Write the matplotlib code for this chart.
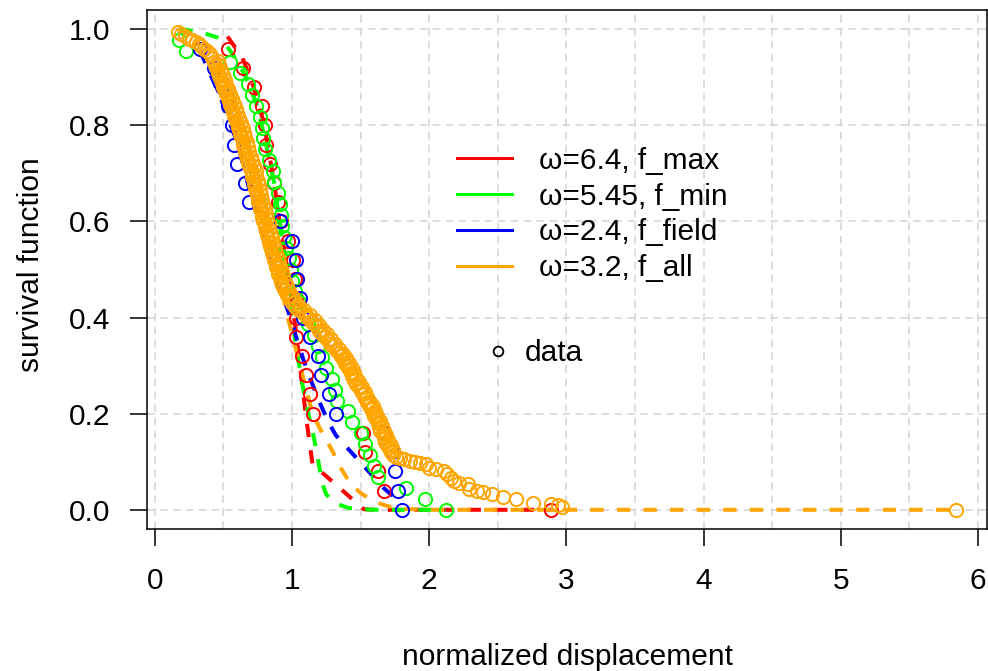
import numpy as np
import matplotlib
matplotlib.use("Agg")
import matplotlib.pyplot as plt
from matplotlib.lines import Line2D
from matplotlib.ticker import MultipleLocator

plt.rcParams["font.family"] = ["Liberation Sans", "DejaVu Sans"]

red_x = [0.53, 0.64, 0.72, 0.78, 0.80, 0.81, 0.84, 0.87, 0.90, 0.92, 0.97, 1.01, 1.02,
         1.03, 1.03, 1.03, 1.07, 1.10, 1.13, 1.15, 1.52, 1.53, 1.63, 1.67, 2.89]
red_y = [0.96, 0.92, 0.88, 0.84, 0.80, 0.76, 0.72, 0.68, 0.64, 0.60, 0.56, 0.52, 0.48,
         0.44, 0.40, 0.36, 0.32, 0.28, 0.24, 0.20, 0.16, 0.12, 0.08, 0.04, 0.00]

green_x = [0.18, 0.23, 0.55, 0.62, 0.68, 0.71, 0.74, 0.77, 0.78, 0.79, 0.80, 0.83, 0.86,
           0.87, 0.90, 0.91, 0.92, 0.93, 0.94, 0.96, 0.98, 0.99, 1.00, 1.02, 1.05, 1.08,
           1.12, 1.16, 1.19, 1.22, 1.25, 1.29, 1.31, 1.33, 1.41, 1.44, 1.50, 1.53, 1.57,
           1.60, 1.63, 1.83, 1.97, 2.12]
green_y = [0.977, 0.955, 0.932, 0.909, 0.886, 0.864, 0.841, 0.818, 0.795, 0.773, 0.750,
           0.727, 0.705, 0.682, 0.659, 0.636, 0.614, 0.591, 0.568, 0.545, 0.523, 0.500,
           0.477, 0.455, 0.432, 0.409, 0.386, 0.364, 0.341, 0.318, 0.295, 0.273, 0.250,
           0.227, 0.205, 0.182, 0.159, 0.136, 0.114, 0.091, 0.068, 0.045, 0.023, 0.000]

blue_x = [0.33, 0.43, 0.49, 0.53, 0.56, 0.58, 0.60, 0.66, 0.69, 0.91, 1.00, 1.03, 1.04,
          1.06, 1.08, 1.13, 1.19, 1.21, 1.27, 1.32, 1.67, 1.73, 1.75, 1.77, 1.80]
blue_y = [0.96, 0.92, 0.88, 0.84, 0.80, 0.76, 0.72, 0.68, 0.64, 0.60, 0.56, 0.52, 0.48,
          0.44, 0.40, 0.36, 0.32, 0.28, 0.24, 0.20, 0.16, 0.12, 0.08, 0.04, 0.00]

orange_x = [0.17, 0.19, 0.22, 0.25, 0.27, 0.30, 0.32, 0.34, 0.36, 0.38, 0.40, 0.42, 0.43,
            0.44, 0.45, 0.46, 0.47, 0.48, 0.49, 0.50, 0.51, 0.52, 0.53, 0.54, 0.55, 0.56,
            0.57, 0.58, 0.59, 0.60, 0.61, 0.615, 0.62, 0.63, 0.64, 0.645, 0.65, 0.66,
            0.665, 0.67, 0.68, 0.69, 0.70, 0.705, 0.71, 0.72, 0.725, 0.73, 0.74, 0.745,
            0.75, 0.755, 0.765, 0.77, 0.78, 0.785, 0.79, 0.80, 0.805, 0.81, 0.82, 0.825,
            0.835, 0.84, 0.85, 0.855, 0.865, 0.87, 0.88, 0.885, 0.895, 0.90, 0.91, 0.92,
            0.93, 0.94, 0.955, 0.97, 0.985, 1.00, 1.02, 1.05, 1.08, 1.10, 1.12, 1.14,
            1.16, 1.18, 1.20, 1.22, 1.24, 1.26, 1.28, 1.30, 1.32, 1.34, 1.355, 1.37,
            1.385, 1.40, 1.415, 1.43, 1.44, 1.455, 1.47, 1.485, 1.50, 1.515, 1.53, 1.545,
            1.56, 1.575, 1.59, 1.60, 1.61, 1.625, 1.635, 1.645, 1.66, 1.67, 1.68, 1.695,
            1.71, 1.725, 1.74, 1.76, 1.79, 1.82, 1.86, 1.90, 1.93, 1.98, 2.00, 2.05, 2.11,
            2.13, 2.16, 2.18, 2.22, 2.28, 2.29, 2.35, 2.39, 2.46, 2.54, 2.63, 2.76, 2.89,
            2.94, 2.97, 5.84]
orange_y = [0.995, 0.990, 0.985, 0.980, 0.977, 0.973, 0.970, 0.965, 0.960, 0.955, 0.948,
            0.940, 0.932, 0.925, 0.918, 0.910, 0.902, 0.895, 0.888, 0.880, 0.872, 0.865,
            0.858, 0.850, 0.842, 0.835, 0.828, 0.820, 0.812, 0.805, 0.797, 0.790, 0.782,
            0.775, 0.768, 0.760, 0.752, 0.745, 0.738, 0.730, 0.722, 0.715, 0.708, 0.700,
            0.692, 0.685, 0.678, 0.670, 0.662, 0.655, 0.648, 0.640, 0.632, 0.625, 0.618,
            0.610, 0.602, 0.595, 0.588, 0.580, 0.572, 0.565, 0.558, 0.550, 0.542, 0.535,
            0.528, 0.520, 0.512, 0.505, 0.498, 0.490, 0.482, 0.475, 0.468, 0.460, 0.452,
            0.445, 0.438, 0.430, 0.423, 0.416, 0.410, 0.405, 0.400, 0.393, 0.386, 0.380,
            0.373, 0.366, 0.360, 0.353, 0.346, 0.340, 0.333, 0.326, 0.320, 0.313, 0.306,
            0.300, 0.292, 0.285, 0.278, 0.270, 0.262, 0.255, 0.248, 0.240, 0.232, 0.225,
            0.218, 0.210, 0.202, 0.195, 0.188, 0.180, 0.172, 0.165, 0.158, 0.150, 0.142,
            0.135, 0.128, 0.120, 0.113, 0.110, 0.107, 0.105, 0.102, 0.100, 0.098, 0.095,
            0.088, 0.084, 0.081, 0.074, 0.067, 0.060, 0.056, 0.053, 0.043, 0.039, 0.036,
            0.033, 0.026, 0.022, 0.015, 0.012, 0.010, 0.006, 0.000]

# second pass along the right side of the dense orange band
orange_x2 = [0.46, 0.47, 0.485, 0.495, 0.51, 0.52, 0.535, 0.55, 0.56, 0.575, 0.59, 0.60,
             0.615, 0.625, 0.64, 0.65, 0.66, 0.67, 0.68, 0.69, 0.70, 0.71, 0.72, 0.735,
             0.74, 0.75, 0.76, 0.765, 0.775, 0.78, 0.79, 0.80, 0.81, 0.82, 0.83, 0.835,
             0.845, 0.855, 0.865, 0.875, 0.885, 0.895, 0.905, 0.915, 0.925, 0.935, 0.95,
             0.965, 0.98, 1.00, 1.02, 1.05, 1.09, 1.13, 1.165, 1.195, 1.225, 1.255, 1.285,
             1.315, 1.345, 1.37, 1.395, 1.415, 1.435, 1.455, 1.47, 1.49, 1.51, 1.53, 1.55,
             1.57, 1.59, 1.605, 1.62, 1.64, 1.655, 1.67, 1.685, 1.70, 1.72, 1.74]
orange_y2 = [0.935, 0.925, 0.915, 0.905, 0.895, 0.885, 0.875, 0.865, 0.855, 0.845, 0.835,
             0.825, 0.815, 0.805, 0.795, 0.785, 0.775, 0.765, 0.755, 0.745, 0.735, 0.725,
             0.715, 0.705, 0.695, 0.685, 0.675, 0.665, 0.655, 0.645, 0.635, 0.625, 0.615,
             0.605, 0.595, 0.585, 0.575, 0.565, 0.555, 0.545, 0.535, 0.525, 0.515, 0.505,
             0.495, 0.485, 0.475, 0.465, 0.455, 0.445, 0.435, 0.425, 0.415, 0.405, 0.395,
             0.385, 0.375, 0.365, 0.355, 0.345, 0.335, 0.325, 0.315, 0.305, 0.295, 0.285,
             0.275, 0.265, 0.255, 0.245, 0.235, 0.225, 0.215, 0.205, 0.195, 0.185, 0.175,
             0.165, 0.155, 0.145, 0.135, 0.125]

# fitted survival curves
red_fit_x = [0.53, 0.64, 0.72, 0.78, 0.80, 0.81, 0.84, 0.87, 0.90, 0.92, 0.97, 1.01, 1.02,
             1.03, 1.07, 1.10, 1.13, 1.15, 1.52, 1.53, 1.63, 1.67, 2.89]
red_fit_y = [0.985, 0.94, 0.88, 0.82, 0.80, 0.78, 0.73, 0.68, 0.62, 0.58, 0.49, 0.41, 0.39,
             0.37, 0.27, 0.20, 0.135, 0.095, 0.002, 0.001, 0.0, 0.0, 0.0]

green_fit_x = [0.18, 0.23, 0.38, 0.49, 0.55, 0.62, 0.68, 0.74, 0.78, 0.80, 0.83, 0.87, 0.91,
               0.94, 0.96, 0.99, 1.02, 1.05, 1.08, 1.12, 1.16, 1.19, 1.22, 1.25, 1.29, 1.33,
               1.41, 1.50, 1.63, 2.12]
green_fit_y = [1.0, 0.999, 0.99, 0.98, 0.955, 0.925, 0.89, 0.845, 0.80, 0.775, 0.735, 0.68,
               0.60, 0.54, 0.49, 0.43, 0.36, 0.305, 0.255, 0.20, 0.15, 0.105, 0.055, 0.032,
               0.02, 0.012, 0.004, 0.001, 0.0, 0.0]

blue_fit_x = [0.33, 0.43, 0.49, 0.53, 0.56, 0.58, 0.60, 0.66, 0.69, 0.91, 1.00, 1.03, 1.04,
              1.06, 1.08, 1.13, 1.19, 1.21, 1.27, 1.32, 1.67, 1.73, 1.75, 1.77, 1.80]
blue_fit_y = [0.955, 0.89, 0.85, 0.815, 0.795, 0.78, 0.765, 0.70, 0.665, 0.465, 0.39, 0.36,
              0.35, 0.335, 0.315, 0.275, 0.232, 0.218, 0.18, 0.155, 0.045, 0.03, 0.022,
              0.016, 0.008]

orange_fit_x = [0.17, 0.25, 0.35, 0.45, 0.55, 0.65, 0.75, 0.85, 0.93, 0.97, 1.05, 1.15,
                1.22, 1.29, 1.36, 1.42, 1.50, 1.57, 1.65, 1.73, 1.80, 2.0, 2.5, 2.97, 5.84]
orange_fit_y = [0.997, 0.99, 0.975, 0.94, 0.88, 0.79, 0.68, 0.55, 0.45, 0.40, 0.31, 0.20,
                0.16, 0.125, 0.085, 0.057, 0.035, 0.022, 0.012, 0.005, 0.002, 0.0, 0.0,
                0.0, 0.0]

labels = ["ω=6.4, f_max", "ω=5.45, f_min", "ω=2.4, f_field", "ω=3.2, f_all"]
colors = ["#FF0000", "#00FF00", "#0000FF", "#FFA500"]

fig = plt.figure(figsize=(9.88, 6.71), dpi=100)
ax = fig.add_axes([0.1488, 0.2116, 0.8502, 0.7734])

fits = [(red_fit_x, red_fit_y), (green_fit_x, green_fit_y),
        (blue_fit_x, blue_fit_y), (orange_fit_x, orange_fit_y)]
pts = [(red_x, red_y), (green_x, green_y), (blue_x, blue_y), (orange_x, orange_y)]

for (fx, fy), c in zip(fits, colors):
    ax.plot(fx, fy, color=c, lw=2.9, linestyle=(0, (3.3, 3.3)), zorder=3)
for (px, py), c in zip(pts, colors):
    ax.plot(px, py, linestyle="none", marker="o", ms=9.5, mfc="none", mec=c, mew=1.4, zorder=4)
ax.plot(orange_x2, orange_y2, linestyle="none", marker="o", ms=9.5, mfc="none",
        mec=colors[3], mew=1.4, zorder=4)

ax.set_xlim(-0.0568, 6.0668)
ax.set_ylim(-0.04, 1.04)
ax.set_xticks([0, 1, 2, 3, 4, 5, 6])
ax.set_yticks([0.0, 0.2, 0.4, 0.6, 0.8, 1.0])
ax.set_yticklabels(["0.0", "0.2", "0.4", "0.6", "0.8", "1.0"])
ax.xaxis.set_minor_locator(MultipleLocator(0.5))
ax.tick_params(which="minor", length=0)
ax.tick_params(which="major", length=12.5, width=1.1, labelsize=21.5, direction="out")
ax.tick_params(axis="x", pad=15)
ax.tick_params(axis="y", pad=14)
ax.grid(True, which="both", axis="x", color="#D3D3D3", lw=1.1, linestyle=(0, (5, 3.5)))
ax.grid(True, which="major", axis="y", color="#D3D3D3", lw=1.1, linestyle=(0, (5, 3.5)))
ax.set_axisbelow(True)
for s in ax.spines.values():
    s.set_linewidth(1.1)

ax.set_xlabel("normalized displacement", fontsize=21.5)
ax.set_ylabel("survival function", fontsize=21.5)
ax.xaxis.set_label_coords(0.5, -0.22)
ax.yaxis.set_label_coords(-0.121, 0.51)

handles = [Line2D([0], [0], color=c, lw=2.2) for c in colors]
leg1 = ax.legend(handles, labels, loc="center left", bbox_to_anchor=(0.3686, 0.606),
                 frameon=False, fontsize=21.5, handlelength=1.87, handletextpad=0.9,
                 labelspacing=0.26, borderpad=0, borderaxespad=0)
ax.add_artist(leg1)
dh = [Line2D([0], [0], linestyle="none", marker="o", ms=7, mfc="none", mec="black", mew=1.3)]
ax.legend(dh, ["data"], loc="center left", bbox_to_anchor=(0.3995, 0.339),
          frameon=False, fontsize=21.5, handlelength=1.0, handletextpad=0.4,
          borderpad=0, borderaxespad=0)

fig.savefig("out.png", dpi=100)
